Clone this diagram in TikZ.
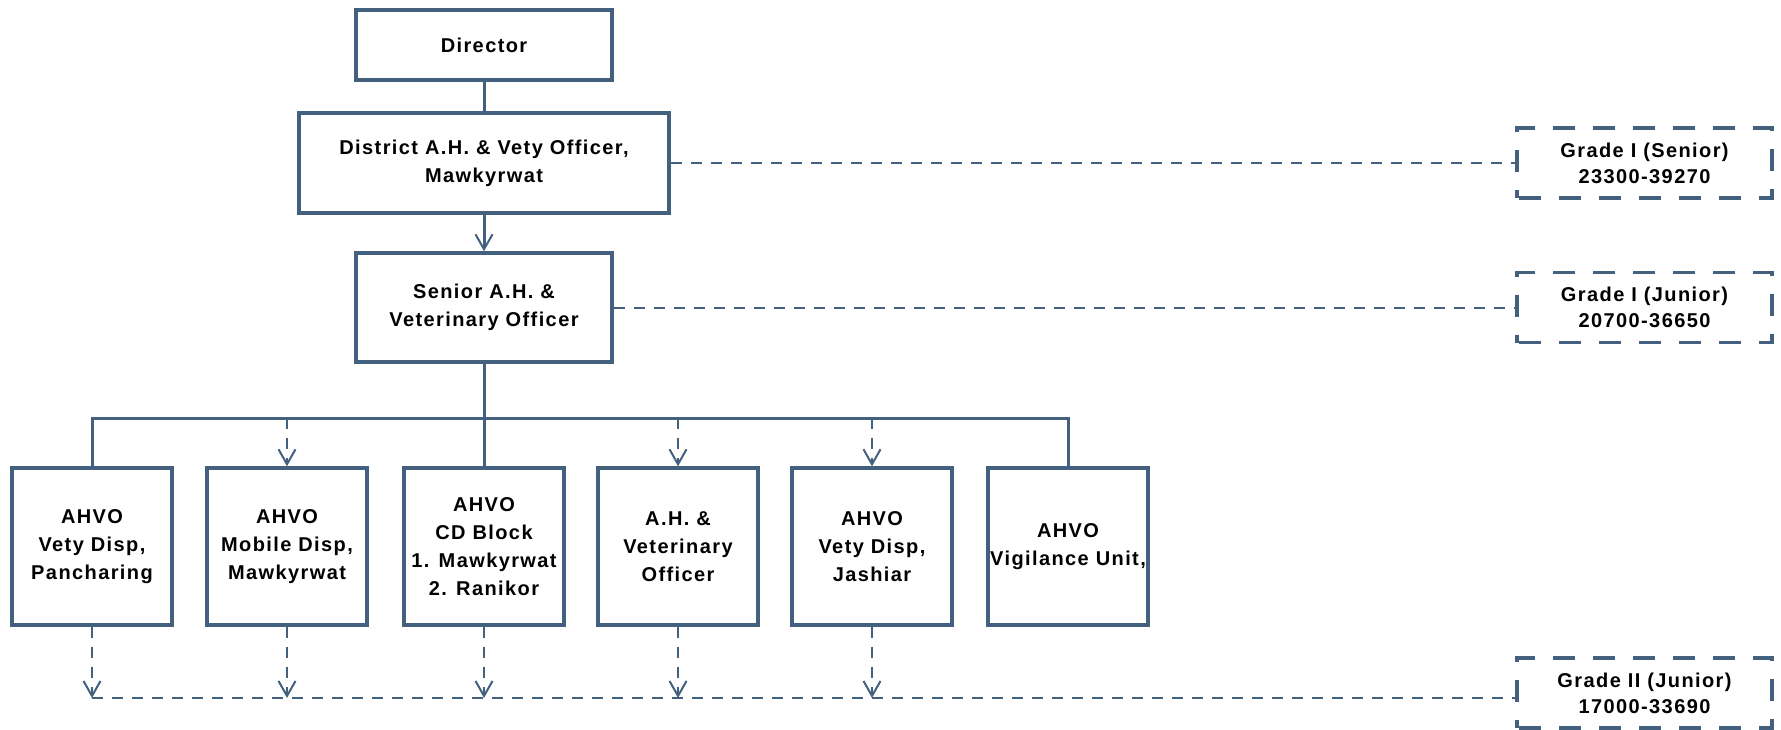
\documentclass[tikz,border=0pt]{standalone}
\usepackage{fontspec}
\setmainfont{Liberation Sans}[LetterSpace=7]
\usetikzlibrary{arrows.meta}
\definecolor{ln}{HTML}{43607E}
\begin{document}
\begin{tikzpicture}[x=0.5pt,y=-0.5pt,
  txt/.style={align=center, font=\fontsize{10}{14}\selectfont\bfseries, text=black},
  box/.style={txt, draw=ln, line width=1.7pt, fill=white, inner sep=0pt},
  bbox/.style={box, minimum width=80pt, minimum height=78.5pt},
  grade/.style={txt, font=\fontsize{10}{13}\selectfont\bfseries, draw=ln, line width=1.8pt, dash pattern=on 11pt off 9pt, dash phase=-1pt, inner sep=0pt, minimum width=127.5pt, minimum height=35pt},
  conn/.style={draw=ln, line width=1.5pt},
  dline/.style={draw=ln, line width=1pt, dash pattern=on 5.5pt off 4.5pt},
  tip/.style={-{Straight Barb[length=7.5pt,width=8.5pt,line width=1pt]}}
]
\useasboundingbox (0,0) rectangle (1781,729);

\node[box, minimum width=128pt, minimum height=35pt] (dir) at (484,45) {Director};
\node[box, minimum width=185pt, minimum height=50pt] (dist) at (484,163) {District A.H. \& Vety Officer,\\Mawkyrwat};
\node[box, minimum width=128pt, minimum height=54.5pt] (sen) at (484,307.5) {Senior A.H. \&\\Veterinary Officer};

\node[bbox] (b1) at (92,546.5) {AHVO\\Vety Disp,\\Pancharing};
\node[bbox] (b2) at (287,546.5) {AHVO\\Mobile Disp,\\Mawkyrwat};
\node[bbox] (b3) at (484,546.5) {AHVO\\CD Block\\1. Mawkyrwat\\2. Ranikor};
\node[bbox] (b4) at (678,546.5) {A.H. \&\\Veterinary\\Officer};
\node[bbox] (b5) at (872,546.5) {AHVO\\Vety Disp,\\Jashiar};
\node[bbox] (b6) at (1068,546.5) {AHVO\\Vigilance Unit,};

\node[grade] (g1) at (1644.5,163) {Grade I (Senior)\\23300-39270};
\node[grade] (g2) at (1644.5,307.5) {Grade I (Junior)\\20700-36650};
\node[grade] (g3) at (1644.5,693) {Grade II (Junior)\\17000-33690};
\coordinate (g3in) at ([yshift=-2.5pt]g3.west);

% vertical chain
\draw[conn] (dir) -- (dist);
\draw[conn, tip] (dist) -- (sen);
\draw[conn] (sen) -- (b3);

% bus
\coordinate (busR) at (1068,418);
\draw[conn] (b1.north) |- (busR) -- (b6.north);
\draw[dline, tip] (b2.north |- busR) -- (b2.north);
\draw[dline, tip] (b4.north |- busR) -- (b4.north);
\draw[dline, tip] (b5.north |- busR) -- (b5.north);

% grade links
\draw[dline] (dist) -- (g1);
\draw[dline] (sen) -- (g2);

% bottom links
\foreach \b in {b1,b2,b3,b4,b5}
  \draw[dline, tip] (\b.south) -- (\b.south |- g3in);
\draw[dline] (b1.south |- g3in) -- (g3in);
\end{tikzpicture}
\end{document}
